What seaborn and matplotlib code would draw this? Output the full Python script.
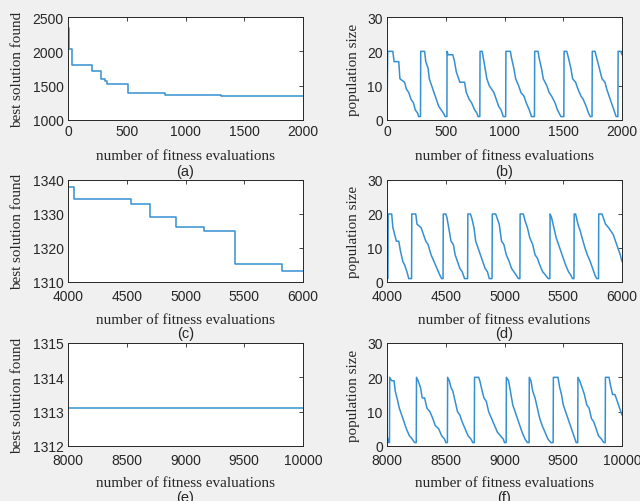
import numpy as np
import pandas as pd
import matplotlib
matplotlib.use("Agg")
import matplotlib.pyplot as plt
import seaborn as sns

# best solution found, panels (a), (c), (e)  (step curves)
best_a_x = [0, 6, 11, 37, 207, 284, 312, 332, 511, 814, 828, 1050, 1300, 2000]
best_a_y = [2340, 2305, 2030, 1795, 1718, 1598, 1572, 1525, 1393, 1388, 1365, 1358, 1352, 1350]
best_c_x = [4000, 4054, 4539, 4701, 4915, 4922, 5157, 5418, 5824, 6000]
best_c_y = [1338.0, 1334.5, 1332.9, 1329.2, 1327.2, 1326.1, 1324.9, 1315.3, 1313.1, 1313.1]
best_e_x = [8000, 10000]
best_e_y = [1313.1, 1313.1]

# population size, panels (b), (d), (f)
pop_b_x = [0, 6, 50, 60, 100, 110, 150, 165, 185, 205, 225, 240, 260, 270, 285,
           287, 320, 330, 350, 360, 380, 400, 420, 440, 460, 480, 495, 510,
           511, 520, 560, 575, 590, 620, 660, 675, 700, 720, 745, 765, 775, 790,
           792, 810, 820, 835, 850, 870, 890, 910, 930, 950, 970, 990, 1010,
           1012, 1050, 1060, 1080, 1095, 1120, 1140, 1165, 1185, 1210, 1230, 1255,
           1257, 1285, 1295, 1315, 1330, 1360, 1380, 1400, 1430, 1450, 1480, 1505,
           1507, 1530, 1545, 1565, 1580, 1605, 1625, 1650, 1670, 1695, 1715, 1730, 1745,
           1747, 1770, 1785, 1800, 1815, 1830, 1855, 1870, 1890, 1910, 1930, 1950, 1965,
           1967, 1990, 2000]
pop_b_y = [1, 20, 20, 17, 17, 12, 11, 9, 8, 6, 5, 3, 2, 1, 1,
           20, 20, 17, 15, 12, 10, 8, 6, 4, 3, 2, 1, 1,
           20, 19, 19, 17, 14, 11, 11, 8, 6, 5, 3, 2, 1, 1,
           20, 20, 18, 15, 12, 10, 9, 8, 6, 4, 3, 1, 1,
           20, 20, 18, 15, 12, 10, 8, 7, 5, 3, 1, 1,
           20, 20, 18, 15, 12, 10, 8, 7, 5, 3, 1, 1,
           20, 20, 18, 15, 12, 11, 9, 7, 6, 4, 2, 1, 1,
           20, 20, 18, 16, 14, 12, 11, 9, 7, 5, 3, 1, 1,
           20, 20, 19]

pop_d_x = [4000, 4008, 4010, 4040, 4050, 4065, 4080, 4100, 4115, 4135, 4150, 4170, 4185, 4195, 4209,
           4211, 4245, 4255, 4290, 4310, 4330, 4350, 4375, 4400, 4425, 4450, 4465, 4477,
           4479, 4500, 4510, 4525, 4545, 4565, 4580, 4600, 4620, 4640, 4660, 4672, 4686,
           4688, 4710, 4720, 4740, 4755, 4775, 4795, 4815, 4835, 4855, 4870, 4880, 4894,
           4896, 4925, 4935, 4955, 4975, 4995, 5015, 5040, 5060, 5080, 5100, 5118, 5131,
           5133, 5160, 5175, 5195, 5215, 5240, 5260, 5280, 5300, 5325, 5350, 5372, 5386,
           5388, 5400, 5420, 5440, 5460, 5480, 5500, 5520, 5545, 5565, 5578, 5591,
           5593, 5605, 5625, 5645, 5660, 5685, 5705, 5730, 5750, 5770, 5785, 5800,
           5802, 5830, 5840, 5860, 5885, 5905, 5925, 5945, 5965, 5985, 6000]
pop_d_y = [1, 1, 20, 20, 16, 14, 12, 12, 9, 6, 5, 3, 1, 1, 1,
           20, 20, 17, 16, 14, 12, 11, 8, 6, 4, 2, 1, 1,
           20, 20, 19, 16, 12, 11, 8, 6, 4, 3, 1, 1, 1,
           20, 20, 19, 16, 12, 10, 8, 6, 4, 3, 1, 1, 1,
           20, 20, 19, 17, 12, 11, 8, 6, 4, 3, 2, 1, 1,
           20, 20, 18, 16, 13, 11, 8, 7, 5, 3, 2, 1, 1,
           20, 19, 16, 13, 11, 9, 7, 5, 3, 2, 1, 1,
           20, 20, 17, 15, 13, 10, 8, 6, 4, 2, 1, 1,
           20, 20, 19, 17, 16, 15, 14, 12, 10, 8, 6]

pop_f_x = [8000, 8008, 8015, 8021, 8023, 8040, 8060, 8070, 8085, 8105, 8125, 8145, 8165, 8190, 8215, 8235, 8249,
           8251, 8265, 8285, 8300, 8320, 8340, 8365, 8390, 8410, 8440, 8465, 8490, 8500, 8514,
           8516, 8530, 8545, 8560, 8580, 8600, 8620, 8640, 8665, 8690, 8715, 8730, 8743,
           8745, 8780, 8790, 8810, 8825, 8845, 8865, 8890, 8915, 8940, 8965, 8990, 9000, 9014,
           9016, 9035, 9050, 9070, 9090, 9110, 9130, 9150, 9175, 9195, 9209,
           9211, 9225, 9240, 9260, 9280, 9300, 9320, 9345, 9370, 9395, 9414,
           9416, 9455, 9470, 9485, 9500, 9520, 9540, 9560, 9580, 9600, 9610, 9623,
           9625, 9640, 9660, 9680, 9700, 9720, 9740, 9760, 9780, 9800, 9825, 9845, 9857,
           9859, 9890, 9900, 9920, 9940, 9960, 9980, 10000]
pop_f_y = [3, 2, 1, 1, 20, 19, 19, 16, 14, 11, 9, 7, 5, 3, 2, 1, 1,
           20, 19, 17, 14, 14, 11, 10, 8, 6, 5, 3, 2, 1, 1,
           20, 19, 17, 16, 13, 10, 9, 7, 5, 3, 2, 1, 1,
           20, 20, 19, 16, 14, 13, 10, 8, 6, 4, 3, 2, 1, 1,
           20, 19, 16, 12, 10, 8, 6, 4, 2, 1, 1,
           20, 19, 16, 14, 11, 8, 6, 4, 2, 1, 1,
           20, 20, 17, 15, 12, 10, 8, 6, 4, 2, 1, 1,
           20, 19, 17, 15, 12, 11, 8, 7, 5, 3, 2, 1, 1,
           20, 20, 18, 15, 15, 13, 11, 9]

panels = [
    (best_a_x, best_a_y, "best solution found", "number of fitness evaluations", "(a)",
     (0, 2000), [0, 500, 1000, 1500, 2000], (1000, 2500), [1000, 1500, 2000, 2500], True),
    (pop_b_x, pop_b_y, "population size", "number of fitness evaluations", "(b)",
     (0, 2000), [0, 500, 1000, 1500, 2000], (0, 30), [0, 10, 20, 30], False),
    (best_c_x, best_c_y, "best solution found", "number of fitness evaluations", "(c)",
     (4000, 6000), [4000, 4500, 5000, 5500, 6000], (1310, 1340), [1310, 1320, 1330, 1340], True),
    (pop_d_x, pop_d_y, "population size", "number of fitness evalutions", "(d)",
     (4000, 6000), [4000, 4500, 5000, 5500, 6000], (0, 30), [0, 10, 20, 30], False),
    (best_e_x, best_e_y, "best solution found", "number of fitness evaluations", "(e)",
     (8000, 10000), [8000, 8500, 9000, 9500, 10000], (1312, 1315), [1312, 1313, 1314, 1315], True),
    (pop_f_x, pop_f_y, "population size", "number of fitness evaluations", "(f)",
     (8000, 10000), [8000, 8500, 9000, 9500, 10000], (0, 30), [0, 10, 20, 30], False),
]

sns.set_style("white")
plt.rcParams["font.family"] = ["Liberation Sans", "DejaVu Sans"]

fig = plt.figure(figsize=(6.4, 5.02), dpi=100, facecolor="#f0f0f0")

lefts = [68, 387]
rows = [(18, 121), (181, 283), (344, 447)]
W, H = 640, 502
line_color = "#3590d2"
serif = ["Liberation Serif", "DejaVu Serif"]

for i, (xs, ys, ylab, xlab, tag, xlim, xt, ylim, yt, step) in enumerate(panels):
    r, c = divmod(i, 2)
    top, bot = rows[r]
    ax = fig.add_axes([lefts[c] / W, 1 - bot / H, 235 / W, (bot - top) / H])
    ax.set_facecolor("white")
    df = pd.DataFrame({"x": xs, "y": ys})
    sns.lineplot(data=df, x="x", y="y", ax=ax, color=line_color, linewidth=1.1,
                 sort=False, estimator=None,
                 drawstyle="steps-post" if step else "default")
    ax.set_xlim(*xlim)
    ax.set_ylim(*ylim)
    ax.set_xticks(xt)
    ax.set_yticks(yt)
    ax.tick_params(direction="in", length=3, width=0.6, top=True, right=True,
                   labelsize=10, colors="#262626", pad=3)
    # lower rows have their x tick labels sitting a bit further down
    ax.tick_params(axis="x", pad=3 if r == 0 else 5)
    for s in ax.spines.values():
        s.set_color("#262626")
        s.set_linewidth(0.7)
    ax.set_xlabel(xlab, fontsize=10.9, family=serif, color="#262626")
    ax.set_ylabel(ylab, fontsize=10.9, family=serif, color="#262626")
    ax.xaxis.label.set_va("center")
    ax.yaxis.label.set_va("center")
    h = bot - top
    ax.xaxis.set_label_coords(0.5, -(35 if r == 0 else 37) / h)
    ax.yaxis.set_label_coords(-(50 if c == 0 else 34) / 235, 0.5)
    ax.text(0.5, -51 / h, tag, transform=ax.transAxes,
            ha="center", va="center", fontsize=10.5, color="#262626")

fig.savefig("out.png", dpi=100, facecolor=fig.get_facecolor())
